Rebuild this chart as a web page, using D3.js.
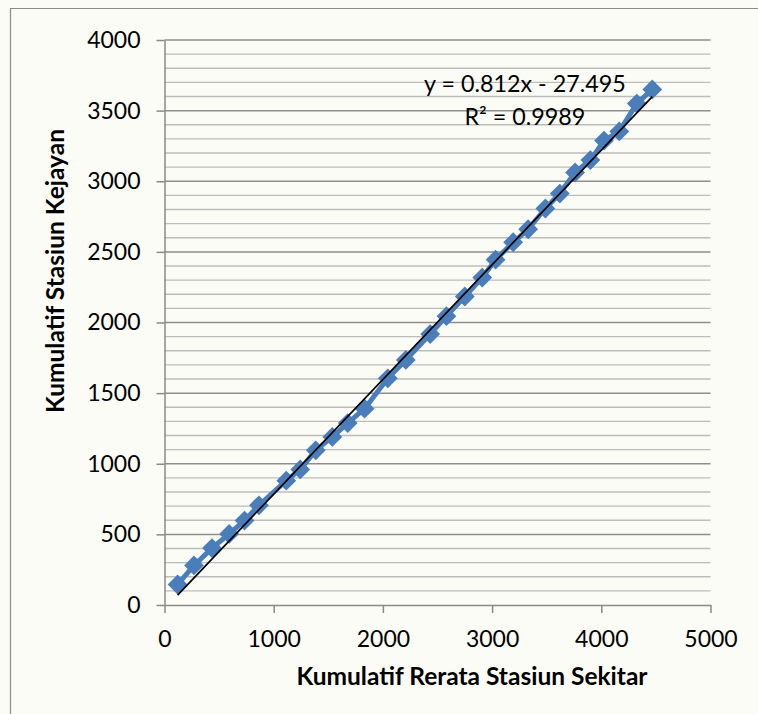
<!DOCTYPE html>
<html>
<head>
<meta charset="utf-8">
<script src="https://cdn.jsdelivr.net/npm/d3@7"></script>
<style>
  body { margin: 0; background: #fcfcf6; }
  svg { display: block; }
</style>
</head>
<body>
<svg id="chart" width="758" height="714"></svg>
<script>
// Double-mass curve: cumulative rainfall at Kejayan vs. mean of surrounding stations
const xValues = [120, 270, 435, 592, 733, 865, 1115, 1243, 1385, 1537, 1678, 1832, 2045, 2210, 2433,
                 2582, 2750, 2910, 3032, 3193, 3330, 3488, 3620, 3760, 3900, 4025, 4165, 4325, 4467];
const yValues = [145, 280, 403, 503, 598, 706, 880, 960, 1095, 1190, 1288, 1390, 1605, 1735, 1918,
                 2045, 2184, 2318, 2445, 2568, 2660, 2807, 2913, 3062, 3150, 3288, 3353, 3550, 3650];

const xTicks = [0, 1000, 2000, 3000, 4000, 5000];
const yTicks = [0, 500, 1000, 1500, 2000, 2500, 3000, 3500, 4000];
const yMinorTicks = d3.range(0, 4001, 100);

const slope = 0.812;
const intercept = -27.495;
const rSquared = 0.9989;

const xTitle = "Kumulatif Rerata Stasiun Sekitar";
const yTitle = "Kumulatif Stasiun Kejayan";

const points = xValues.map((x, i) => ({ x, y: yValues[i] }));

const svg = d3.select("#chart");
const font = "Lato, 'Open Sans', sans-serif";
const axisGrey = "#8a8a8a";
const blue = "#4a7ebb";

const x = d3.scaleLinear().domain([0, 5000]).range([164.5, 710.5]);
const y = d3.scaleLinear().domain([0, 4000]).range([605, 40]);

// chart area frame
svg.append("path")
  .attr("d", "M10.5,714 V8.5 H758")
  .attr("fill", "none")
  .attr("stroke", "#8c8c8c")
  .attr("stroke-width", 1.2);

// gridlines: minor every 100, major every 500
const grid = svg.append("g");
grid.selectAll("line.minor")
  .data(yMinorTicks.filter(v => v % 500 !== 0))
  .join("line")
  .attr("class", "minor")
  .attr("x1", x(0)).attr("x2", x(5000))
  .attr("y1", d => y(d)).attr("y2", d => y(d))
  .attr("stroke", "#bcbcbc")
  .attr("stroke-width", 1.4);
grid.selectAll("line.major")
  .data(yTicks.filter(v => v > 0))
  .join("line")
  .attr("class", "major")
  .attr("x1", x(0)).attr("x2", x(5000))
  .attr("y1", d => y(d)).attr("y2", d => y(d))
  .attr("stroke", "#8e8e8e")
  .attr("stroke-width", 1.5);

// axes
const fmt = d3.format("d");
const xAxis = svg.append("g")
  .attr("transform", `translate(0,${y(0)})`)
  .call(d3.axisBottom(x).tickValues(xTicks).tickFormat(fmt).tickSize(8).tickPadding(18).tickSizeOuter(0));
const yAxis = svg.append("g")
  .attr("transform", `translate(${x(0)},0)`)
  .call(d3.axisLeft(y).tickValues(yTicks).tickFormat(fmt).tickSize(8).tickPadding(16).tickSizeOuter(0));

[xAxis, yAxis].forEach(g => {
  g.select(".domain").attr("stroke", axisGrey).attr("stroke-width", 1.5);
  g.selectAll(".tick line").attr("stroke", axisGrey).attr("stroke-width", 1.5);
  g.selectAll(".tick text")
    .attr("fill", "#000")
    .style("font-family", font)
    .style("font-size", "23px");
});

// series: connected line with diamond markers
svg.append("path")
  .datum(points)
  .attr("fill", "none")
  .attr("stroke", blue)
  .attr("stroke-width", 5)
  .attr("stroke-linejoin", "round")
  .attr("d", d3.line().x(d => x(d.x)).y(d => y(d.y)));

svg.append("g").selectAll("path")
  .data(points)
  .join("path")
  .attr("transform", d => `translate(${x(d.x)},${y(d.y)})`)
  .attr("d", d3.symbol(d3.symbolDiamond2, 250)())
  .attr("fill", blue);

// linear trendline
const xMin = d3.min(xValues), xMax = d3.max(xValues);
svg.append("line")
  .attr("x1", x(xMin)).attr("y1", y(slope * xMin + intercept))
  .attr("x2", x(xMax)).attr("y2", y(slope * xMax + intercept))
  .attr("stroke", "#000")
  .attr("stroke-width", 1.7);

// trendline equation
const eq = svg.append("g")
  .style("font-family", font)
  .style("font-size", "23.3px")
  .attr("fill", "#000")
  .attr("text-anchor", "middle");
eq.append("text")
  .attr("x", x(3300)).attr("y", y(3630))
  .text(`y = ${slope}x - ${Math.abs(intercept)}`);
eq.append("text")
  .attr("x", x(3300)).attr("y", y(3397))
  .text(`R² = ${rSquared}`);

// axis titles
svg.append("text")
  .attr("x", 472).attr("y", 685)
  .attr("text-anchor", "middle")
  .style("font-family", font)
  .style("font-size", "24.5px")
  .style("font-weight", "bold")
  .text(xTitle);

svg.append("text")
  .attr("transform", "translate(64,271) rotate(-90)")
  .attr("text-anchor", "middle")
  .style("font-family", font)
  .style("font-size", "24.5px")
  .style("font-weight", "bold")
  .text(yTitle);
</script>
</body>
</html>
